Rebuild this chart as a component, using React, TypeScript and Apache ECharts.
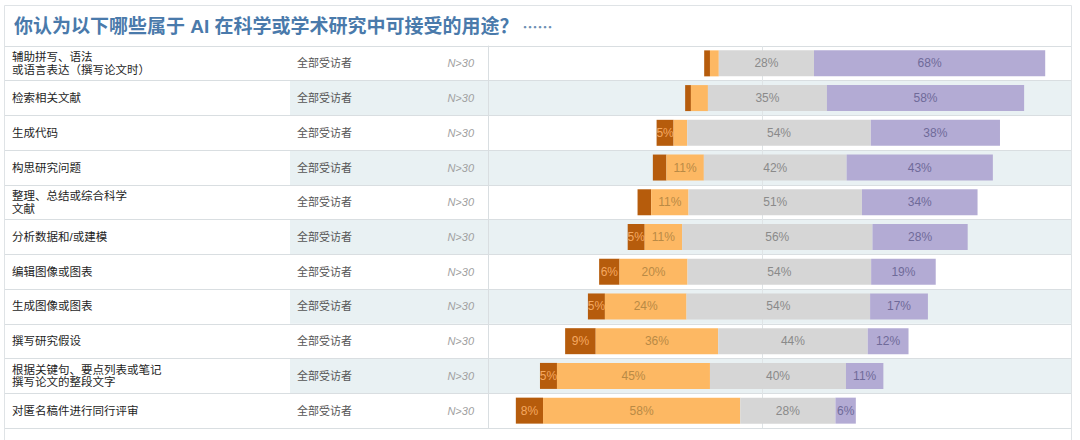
import { useEffect, useRef } from "react";
import * as echarts from "echarts";

const FONT = "'Liberation Sans', 'Noto Sans CJK SC', sans-serif";
const CJK = "'Noto Sans CJK SC', sans-serif";

const titleText = "你认为以下哪些属于 AI 在科学或学术研究中可接受的用途？";
const titleTail = "……";

const uses = [
  "辅助拼写、语法\n或语言表达（撰写论文时）",
  "检索相关文献",
  "生成代码",
  "构思研究问题",
  "整理、总结或综合科学\n文献",
  "分析数据和/或建模",
  "编辑图像或图表",
  "生成图像或图表",
  "撰写研究假设",
  "根据关键句、要点列表或笔记\n撰写论文的整段文字",
  "对匿名稿件进行同行评审",
];
const groupLabel = "全部受访者";
const sampleLabel = "N>30";

// where each bar starts, in % from the centre line
const offsets = [-17.0, -22.6, -31.0, -32.1, -36.6, -39.5, -47.9, -51.2, -57.9, -65.3, -72.4];
const darkOrange = [1.7, 1.7, 5, 4, 4, 5, 6, 5, 9, 5, 8];
const lightOrange = [2.6, 5, 4, 11, 11, 11, 20, 24, 36, 45, 58];
const grey = [28, 35, 54, 42, 51, 56, 54, 54, 44, 40, 28];
const purple = [68, 58, 38, 43, 34, 28, 19, 17, 12, 11, 6];

const LINE = "#d9dee1";

export default function App() {
  const ref = useRef<HTMLDivElement>(null);

  useEffect(() => {
    document.body.style.margin = "0";
    if (!ref.current) return;
    const chart = echarts.init(ref.current, null, { renderer: "svg" });

    const seg = (name: string, data: number[], color: string, labelColor: string, min: number) => ({
      name,
      type: "bar",
      xAxisIndex: 1,
      yAxisIndex: 1,
      stack: "total",
      stackStrategy: "all",
      barWidth: 26,
      z: 3,
      data,
      itemStyle: { color },
      label: {
        show: true,
        position: "inside",
        color: labelColor,
        fontSize: 12,
        fontFamily: FONT,
        formatter: (p: any) => (p.value >= min ? `${Math.round(p.value)}%` : ""),
      },
    });

    chart.setOption({
      animation: false,
      backgroundColor: "#ffffff",
      title: {
        text: `{a|${titleText}}{b|${titleTail}}`,
        left: 9,
        top: 12,
        textStyle: {
          rich: {
            a: { color: "#4a7aab", fontSize: 19, fontWeight: "bold", fontFamily: FONT },
            b: { color: "#6d8fb3", fontSize: 15, fontFamily: CJK, padding: [0, 0, 0, 4] },
          },
        },
      },
      graphic: [
        {
          type: "rect",
          silent: true,
          z: 100,
          shape: { x: 4.5, y: 5.5, width: 1067, height: 460 },
          style: { fill: "none", stroke: "#dfe3e6", lineWidth: 1 },
        },
      ],
      grid: [
        { left: 4, width: 286, top: 46, height: 382 },
        { left: 290, right: 8, top: 46, height: 382 },
      ],
      xAxis: [
        { gridIndex: 0, type: "value", min: 0, max: 1, show: false },
        { gridIndex: 1, type: "value", min: -138.82, max: 91.18, show: false },
      ],
      yAxis: [
        {
          gridIndex: 0,
          type: "category",
          inverse: true,
          data: uses,
          axisLine: { show: false },
          axisTick: { show: false },
          axisLabel: { inside: true, margin: 8, color: "#1e1e1e", fontSize: 11.5, lineHeight: 12.5, fontFamily: FONT },
          splitLine: { show: true, interval: 0, lineStyle: { color: LINE, width: 1 } },
        },
        {
          gridIndex: 1,
          type: "category",
          inverse: true,
          data: uses,
          axisLine: { show: false },
          axisTick: { show: false },
          axisLabel: { inside: true, margin: 7, color: "#555", fontSize: 11, fontFamily: FONT, formatter: () => groupLabel },
          splitLine: { show: true, interval: 0, lineStyle: { color: LINE, width: 1 } },
          splitArea: { show: true, interval: 0, areaStyle: { color: ["rgba(255,255,255,0)", "#e9f1f3"] } },
        },
        {
          gridIndex: 1,
          type: "category",
          inverse: true,
          data: uses,
          position: "left",
          offset: -198,
          axisLine: { show: true, lineStyle: { color: LINE } },
          axisTick: { show: false },
          axisLabel: {
            margin: 14,
            color: "#a0a0a0",
            fontStyle: "italic",
            fontSize: 11,
            fontFamily: FONT,
            formatter: () => sampleLabel,
          },
        },
      ],
      series: [
        {
          name: "offset",
          type: "bar",
          xAxisIndex: 1,
          yAxisIndex: 1,
          stack: "total",
          stackStrategy: "all",
          barWidth: 26,
          z: 1,
          silent: true,
          data: offsets,
          itemStyle: { color: "rgba(0,0,0,0)" },
          markLine: {
            silent: true,
            z: 1,
            symbol: ["none", "none"],
            label: { show: false },
            lineStyle: { color: "#dfe4e6", width: 1, type: "solid" },
            data: [{ xAxis: 0 }],
          },
        },
        seg("dark", darkOrange, "#b65c0c", "#f5a860", 5),
        seg("light", lightOrange, "#fdb863", "#b98a45", 10),
        seg("grey", grey, "#d6d6d6", "#8a8a8a", 0),
        seg("purple", purple, "#b3abd4", "#6f6a99", 0),
      ],
    });

    return () => chart.dispose();
  }, []);

  return <div ref={ref} style={{ width: 1080, height: 440 }} />;
}
